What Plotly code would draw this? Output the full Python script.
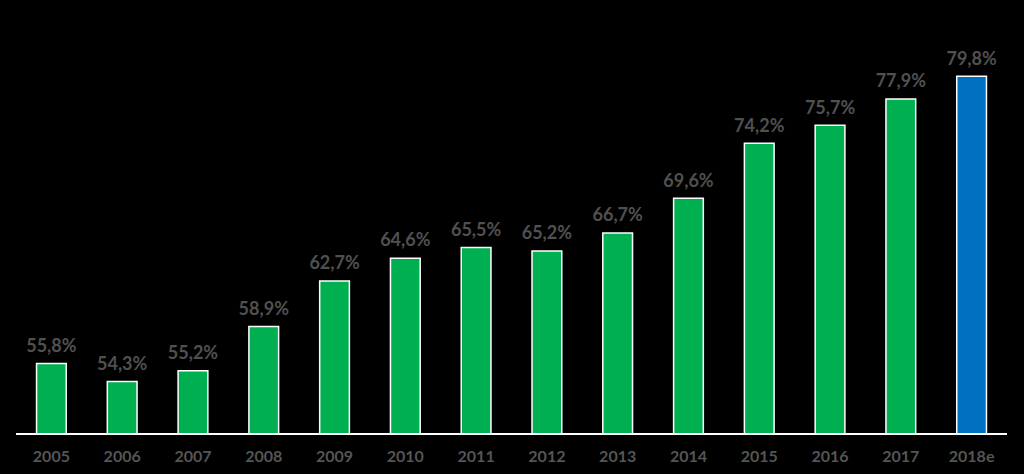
import plotly.graph_objects as go

years = ["2005", "2006", "2007", "2008", "2009", "2010", "2011", "2012", "2013", "2014", "2015", "2016", "2017", "2018e"]
values = [55.8, 54.3, 55.2, 58.9, 62.7, 64.6, 65.5, 65.2, 66.7, 69.6, 74.2, 75.7, 77.9, 79.8]
labels = ["55,8%", "54,3%", "55,2%", "58,9%", "62,7%", "64,6%", "65,5%", "65,2%", "66,7%", "69,6%", "74,2%", "75,7%", "77,9%", "79,8%"]
colors = ["#00B050"] * 13 + ["#0070C0"]

fig = go.Figure()
fig.add_trace(go.Bar(
    x=years, y=values,
    marker=dict(color=colors, line=dict(color="white", width=1.5)),
    cliponaxis=False, hoverinfo="skip",
))
fig.add_trace(go.Scatter(
    x=years, y=values, text=labels, mode="markers+text", textposition="top center",
    marker=dict(size=10, opacity=0),
    textfont=dict(family="Lato", size=18, color="#505050", weight="bold"),
    cliponaxis=False,
))
fig.update_layout(
    width=1024, height=474,
    paper_bgcolor="black", plot_bgcolor="black",
    margin=dict(l=16, r=17, t=20, b=41),
    bargap=0.58,
    showlegend=False,
    xaxis=dict(type="category", automargin=False, showgrid=False, showline=True,
               linecolor="white", linewidth=2,
               ticks="", ticklabelstandoff=8,
               tickfont=dict(family="Lato", size=16, color="#555555", weight="bold"),
               range=[-0.5, 13.5]),
    yaxis=dict(visible=False, range=[50, 84.5]),
)
fig.write_html("out.html")
